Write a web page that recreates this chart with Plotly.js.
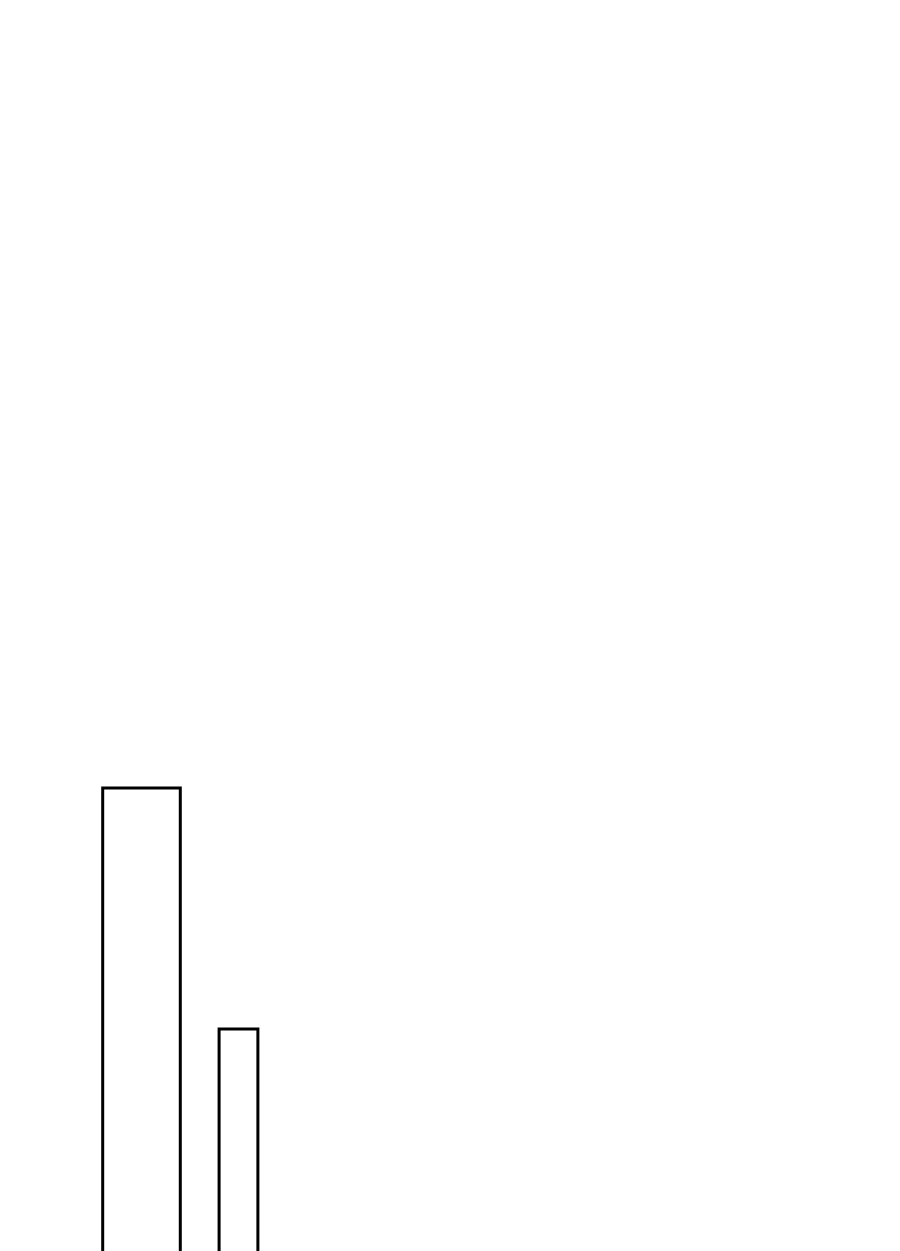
<!DOCTYPE html>
<html>
<head>
<meta charset="utf-8">
<script src="https://cdn.plot.ly/plotly-3.0.1.min.js"></script>
<style>
  html, body { margin: 0; padding: 0; background: #fff; overflow: hidden; }
  #myDiv { width: 900px; height: 1251px; }
</style>
</head>
<body>
<div id="myDiv"></div>
<script>
// two outlined bars, second one half as wide and half as tall
var positions = [1, 2];
var values = [10, 5];
var widths = [0.8, 0.4];

function drawBars(){
    var data = [{
        x: positions,
        y: values,
        width: widths,
        type: 'bar',
        marker: {
            color: '#ffffff',
            line: {color: '#000000', width: 3}
        },
        hoverinfo: 'none'
    }];

    var layout = {
        width: 900,
        height: 1251,
        margin: {l: 0, r: 0, t: 0, b: 0},
        paper_bgcolor: '#ffffff',
        plot_bgcolor: '#ffffff',
        showlegend: false,
        xaxis: {
            range: [-0.4588, 8.820],
            visible: false,
            fixedrange: true
        },
        yaxis: {
            range: [0.394, 26.35],
            visible: false,
            fixedrange: true
        }
    };

    Plotly.newPlot('myDiv', data, layout, {staticPlot: true});
}

drawBars();
</script>
</body>
</html>
